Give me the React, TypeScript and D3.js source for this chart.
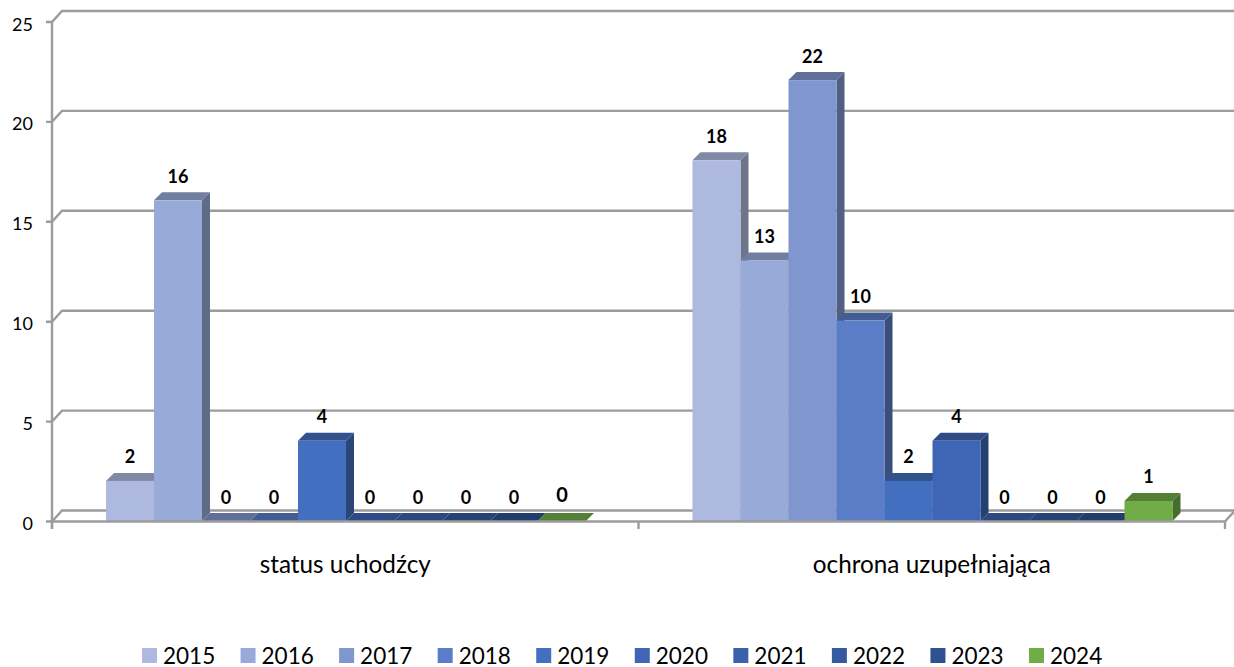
import React from 'react';
import * as d3 from 'd3';

const categories = ['status uchodźcy', 'ochrona uzupełniająca'];
const years = ['2015', '2016', '2017', '2018', '2019', '2020', '2021', '2022', '2023', '2024'];
const refugee = [2, 16, 0, 0, 4, 0, 0, 0, 0, 0];
const subsidiary = [18, 13, 22, 10, 2, 4, 0, 0, 0, 1];
const yTicks = [0, 5, 10, 15, 20, 25];
const colours = ['#adb9df', '#98aad8', '#8096cf', '#5b7cc7', '#426fbf', '#3e66b5', '#3a62ac', '#345ba0', '#2e5290', '#70ad47'];

const font = 'Lato, sans-serif';
const wallDepth = 10;
const barDepth = 8;
const axisColour = '#9c9c9c';
const axisWidth = 2.4;

const shade = (c: string, k: number) => {
  const rgb = d3.rgb(c);
  return d3.rgb(rgb.r * k, rgb.g * k, rgb.b * k).formatHex();
};

const App: React.FC = () => {
  const x = d3.scaleBand<string>().domain(categories).range([52, 1225]);
  const inner = d3.scaleBand<string>().domain(years).range([54, 534]);
  const yAxis = d3.scaleLinear().domain([0, 25]).range([521.5, 22]);
  const yBar = d3.scaleLinear().domain([0, 25]).range([521, 20]);
  const legendX = d3.scalePoint<string>().domain(years).range([142, 1029]);
  const series = [refugee, subsidiary];
  const w = inner.bandwidth();
  const base = yBar(0);

  return (
    <svg width={1234} height={667} style={{ position: 'absolute', left: 0, top: 0 }} fontFamily={font}>
      {/* back wall grid */}
      {yTicks.map(t => (
        <g key={t} fill="none" stroke={axisColour} strokeWidth={axisWidth}>
          <path d={`M46,${yAxis(t)}H52L${52 + wallDepth},${yAxis(t) - 11}H1234`} />
        </g>
      ))}
      <path d={`M1225,${yAxis(0)}L1235,${yAxis(0) - 11}`} stroke={axisColour} strokeWidth={axisWidth} fill="none" />

      {/* bars, left to right so the next front covers the side */}
      {categories.map((cat, ci) => (
        <g key={cat}>
          {series[ci].map((v, i) => {
            const x0 = (x(cat) as number) + (inner(years[i]) as number);
            const top = yBar(v);
            const c = colours[i];
            return (
              <g key={years[i]}>
                <path
                  d={`M${x0 + w},${top}l${barDepth},${-barDepth}V${base - barDepth}L${x0 + w},${base}Z`}
                  fill={shade(c, 0.63)}
                />
                <path
                  d={`M${x0},${top}l${barDepth},${-barDepth}h${w}l${-barDepth},${barDepth}Z`}
                  fill={shade(c, 0.74)}
                />
                <rect x={x0} y={top} width={w} height={base - top} fill={c} />
              </g>
            );
          })}
        </g>
      ))}

      {/* front axes */}
      <path d={`M52,${yAxis(25)}V529`} stroke={axisColour} strokeWidth={axisWidth} fill="none" />
      <path d={`M52,${yAxis(0)}H1225`} stroke={axisColour} strokeWidth={axisWidth} fill="none" />
      {[...categories.map(c => x(c) as number), 1225].map(p => (
        <path key={p} d={`M${p},${yAxis(0)}V529`} stroke={axisColour} strokeWidth={axisWidth} fill="none" />
      ))}

      {/* value labels */}
      {categories.map((cat, ci) => (
        <g key={cat} fontWeight={700} textAnchor="middle" fill="#000">
          {series[ci].map((v, i) => (
            <text
              key={years[i]}
              x={(x(cat) as number) + (inner(years[i]) as number) + w / 2}
              y={yBar(v) - 17.5 - (ci === 0 && i === 9 ? 2 : 0)}
              fontSize={ci === 0 && i === 9 ? 20 : 18}
            >
              {v}
            </text>
          ))}
        </g>
      ))}

      {/* y labels */}
      {yTicks.map(t => (
        <text key={t} x={33} y={yAxis(t) + 8.5} fontSize={18} textAnchor="end" fill="#000">
          {t}
        </text>
      ))}

      {/* category labels */}
      {categories.map(cat => (
        <text
          key={cat}
          x={(x(cat) as number) + x.bandwidth() / 2}
          y={572.5}
          fontSize={24.3}
          textAnchor="middle"
          fill="#000"
        >
          {cat}
        </text>
      ))}

      {/* legend */}
      {years.map((yr, i) => (
        <g key={yr}>
          <rect x={legendX(yr)} y={648} width={15} height={15} fill={colours[i]} />
          <text x={(legendX(yr) as number) + 21} y={663.5} fontSize={22.5} fill="#000">
            {yr}
          </text>
        </g>
      ))}
    </svg>
  );
};

export default App;
